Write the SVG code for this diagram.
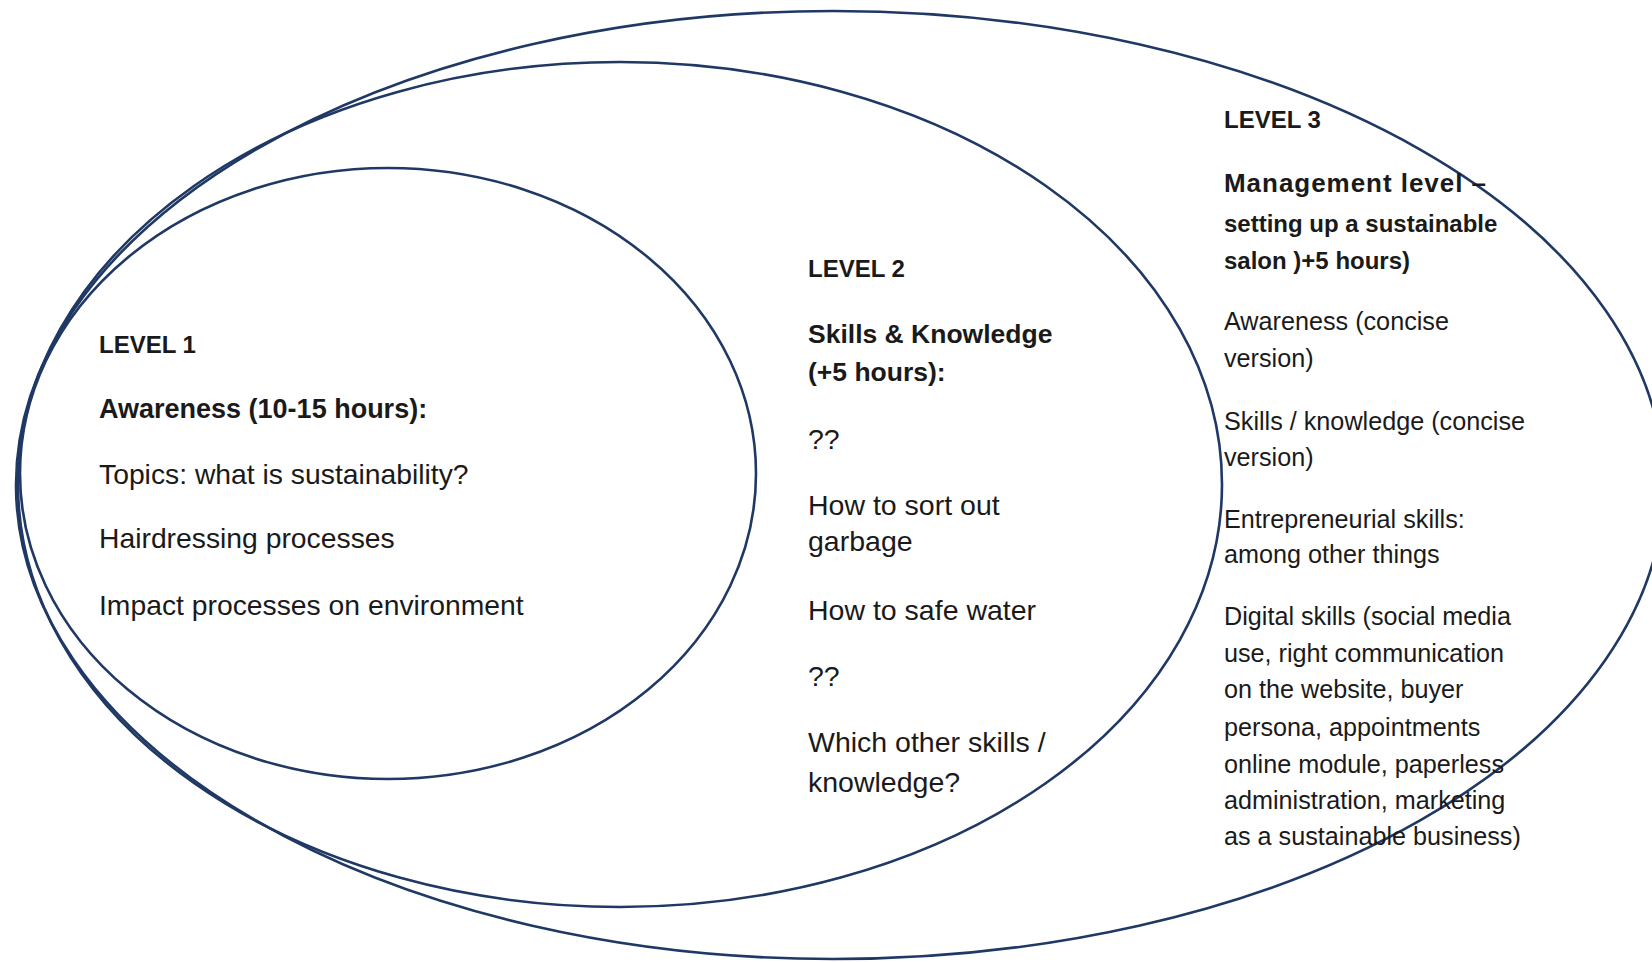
<svg xmlns="http://www.w3.org/2000/svg" width="1652" height="962" viewBox="0 0 1652 962">
  <style>
    .ring { fill: none; stroke: #1f3864; stroke-width: 2.6; }
    .t { font-family: "Liberation Sans", Arial, sans-serif; fill: #1a1a1a; }
    .l1 { font-size: 28.3px; }
    .l1b { font-size: 27px; font-weight: bold; }
    .hd { font-size: 24px; font-weight: bold; }
    .l2 { font-size: 28.5px; }
    .l2b { font-size: 26.5px; font-weight: bold; }
    .l3 { font-size: 25.2px; }
    .l3b { font-size: 24px; font-weight: bold; }
  </style>
  <rect x="0" y="0" width="1652" height="962" fill="#ffffff"/>

  <g id="level3">
    <path class="ring" d="M 833 11 A 831 474 0 0 1 833 959 A 817 474 0 0 1 833 11 Z"/>
    <g class="t">
      <text class="hd" x="1224" y="128">LEVEL 3</text>
      <text class="l3b" x="1224" y="192" style="font-size:26px" textLength="262" lengthAdjust="spacing">Management level –</text>
      <text class="l3b" x="1224" y="232">setting up a sustainable</text>
      <text class="l3b" x="1224" y="269">salon )+5 hours)</text>
      <text class="l3" x="1224" y="330">Awareness (concise</text>
      <text class="l3" x="1224" y="367">version)</text>
      <text class="l3" x="1224" y="430">Skills / knowledge (concise</text>
      <text class="l3" x="1224" y="466">version)</text>
      <text class="l3" x="1224" y="528">Entrepreneurial skills:</text>
      <text class="l3" x="1224" y="563">among other things</text>
      <text class="l3" x="1224" y="625">Digital skills (social media</text>
      <text class="l3" x="1224" y="662">use, right communication</text>
      <text class="l3" x="1224" y="698">on the website, buyer</text>
      <text class="l3" x="1224" y="736">persona, appointments</text>
      <text class="l3" x="1224" y="773">online module, paperless</text>
      <text class="l3" x="1224" y="809">administration, marketing</text>
      <text class="l3" x="1224" y="845">as a sustainable business)</text>
    </g>
  </g>

  <g id="level2">
    <ellipse class="ring" cx="620" cy="484.5" rx="602" ry="422.5"/>
    <g class="t">
      <text class="hd" x="808" y="277">LEVEL 2</text>
      <text class="l2b" x="808" y="343">Skills &amp; Knowledge</text>
      <text class="l2b" x="808" y="381">(+5 hours):</text>
      <text class="l2" x="808" y="449">??</text>
      <text class="l2" x="808" y="515">How to sort out</text>
      <text class="l2" x="808" y="551">garbage</text>
      <text class="l2" x="808" y="620">How to safe water</text>
      <text class="l2" x="808" y="686">??</text>
      <text class="l2" x="808" y="752">Which other skills /</text>
      <text class="l2" x="808" y="792">knowledge?</text>
    </g>
  </g>

  <g id="level1">
    <ellipse class="ring" cx="388" cy="473.5" rx="368" ry="305.5"/>
    <g class="t">
      <text class="hd" x="99" y="353">LEVEL 1</text>
      <text class="l1b" x="99" y="418">Awareness (10-15 hours):</text>
      <text class="l1" x="99" y="484">Topics: what is sustainability?</text>
      <text class="l1" x="99" y="548">Hairdressing processes</text>
      <text class="l1" x="99" y="615">Impact processes on environment</text>
    </g>
  </g>

  <g id="connectors"/>
</svg>
